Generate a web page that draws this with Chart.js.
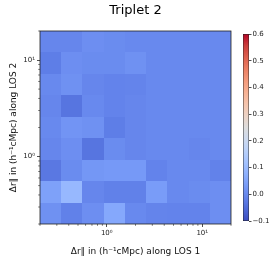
<!DOCTYPE html>
<html>
<head>
<meta charset="utf-8">
<script src="https://cdn.jsdelivr.net/npm/chart.js@4.4.0/dist/chart.umd.min.js"></script>
<style>
  html, body { margin: 0; padding: 0; background: #fff; }
  #wrap { position: relative; width: 275px; height: 257px; }
  #wrap canvas { position: absolute; left: 0; top: 0; }
</style>
</head>
<body>
<div id="wrap">
  <canvas id="heat" width="275" height="257"></canvas>
  <canvas id="cbar" width="275" height="257"></canvas>
</div>
<script>
// bin edges (h^-1 cMpc), same for both lines of sight
const xEdges = [0.2, 0.3337, 0.5565, 0.9284, 1.5486, 2.5836, 4.3093, 7.1876, 11.99, 20];
const yEdges = [0.2, 0.3337, 0.5565, 0.9284, 1.5486, 2.5836, 4.3093, 7.1876, 11.99, 20];

// correlation per cell, rows from lowest LOS 2 bin upwards
const corr = [
  [ 0.015, -0.015,  0.010,  0.060,  0.000, -0.008, -0.010, -0.010,  0.010],
  [ 0.045,  0.095, -0.005, -0.015, -0.015,  0.035,  0.000,  0.005,  0.010],
  [-0.030,  0.005,  0.025,  0.030,  0.030, -0.010,  0.000,  0.000, -0.012],
  [-0.005,  0.010, -0.035,  0.005, -0.005,  0.000,  0.000, -0.005,  0.000],
  [ 0.000,  0.020,  0.015, -0.020, -0.005,  0.000,  0.000,  0.000,  0.000],
  [-0.005, -0.035,  0.000, -0.010, -0.005,  0.000,  0.000,  0.000,  0.000],
  [ 0.000,  0.015, -0.005, -0.010, -0.008,  0.000,  0.000,  0.000,  0.000],
  [-0.020,  0.010,  0.005,  0.005,  0.015,  0.000,  0.000,  0.000,  0.000],
  [-0.005, -0.005,  0.010,  0.005,  0.000,  0.000,  0.000,  0.000,  0.000]
];

const majorTicks = [1, 10];
const majorLabels = ['10⁰', '10¹'];
const minorTicks = [0.2, 0.3, 0.4, 0.5, 0.6, 0.7, 0.8, 0.9, 2, 3, 4, 5, 6, 7, 8, 9, 20];

const vMin = -0.1, vMax = 0.6;
const cbTicks = [-0.1, 0.0, 0.1, 0.2, 0.3, 0.4, 0.5, 0.6];
const cbLabels = ['−0.1', '0.0', '0.1', '0.2', '0.3', '0.4', '0.5', '0.6'];

// matplotlib coolwarm
const coolwarmStops = [
  [59, 76, 192], [77, 104, 215], [98, 130, 234], [119, 154, 247], [141, 176, 254],
  [163, 194, 255], [184, 208, 249], [204, 217, 238], [221, 221, 221], [236, 211, 197],
  [245, 196, 172], [247, 177, 147], [244, 154, 123], [236, 127, 99], [222, 96, 78],
  [203, 62, 60], [180, 4, 38]
];

function coolwarm(t) {
  t = Math.max(0, Math.min(1, t));
  const p = t * (coolwarmStops.length - 1);
  const i = Math.min(Math.floor(p), coolwarmStops.length - 2);
  const f = p - i;
  const a = coolwarmStops[i], b = coolwarmStops[i + 1];
  const c = a.map((v, k) => Math.round(v + (b[k] - v) * f));
  return 'rgb(' + c.join(',') + ')';
}

const FONT = 'DejaVu Sans';
const INK = '#222';

const heatPlugin = {
  id: 'heatCells',
  beforeDatasetsDraw(chart) {
    const xs = chart.scales.x, ys = chart.scales.y, ctx = chart.ctx;
    ctx.save();
    corr.forEach((row, i) => {
      row.forEach((v, j) => {
        const x0 = Math.round(xs.getPixelForValue(xEdges[j]));
        const x1 = Math.round(xs.getPixelForValue(xEdges[j + 1]));
        const y0 = Math.round(ys.getPixelForValue(yEdges[i + 1]));
        const y1 = Math.round(ys.getPixelForValue(yEdges[i]));
        ctx.fillStyle = coolwarm((v - vMin) / (vMax - vMin));
        ctx.fillRect(x0, y0, x1 - x0, y1 - y0);
      });
    });
    ctx.restore();
  },
  afterDraw(chart) {
    const xs = chart.scales.x, ys = chart.scales.y, ctx = chart.ctx;
    const a = chart.chartArea;
    ctx.save();
    ctx.strokeStyle = INK;
    ctx.lineWidth = 0.6;
    ctx.beginPath();
    minorTicks.forEach(v => {
      const x = xs.getPixelForValue(v);
      ctx.moveTo(x, a.bottom);
      ctx.lineTo(x, a.bottom + 1.8);
      const y = ys.getPixelForValue(v);
      ctx.moveTo(a.left, y);
      ctx.lineTo(a.left - 1.8, y);
    });
    ctx.stroke();
    ctx.lineWidth = 0.8;
    ctx.strokeRect(a.left, a.top, a.right - a.left, a.bottom - a.top);
    ctx.restore();
  }
};

function logAxis(pos, label) {
  return {
    type: 'logarithmic',
    position: pos,
    min: 0.2,
    max: 20,
    bounds: 'data',
    afterBuildTicks: s => { s.ticks = majorTicks.map(v => ({ value: v })); },
    ticks: {
      callback: (v, i) => majorLabels[i],
      font: { family: FONT, size: 7 },
      color: INK,
      padding: 2,
      maxRotation: 0,
      autoSkip: false
    },
    grid: { drawOnChartArea: false, tickLength: 3, tickWidth: 0.8, tickColor: INK },
    border: { display: false },
    title: {
      display: true,
      text: label,
      font: { family: FONT, size: 9 },
      color: '#111',
      padding: { top: pos === 'bottom' ? 5.6 : 8.6, bottom: 0 }
    },
    afterFit: s => {
      if (pos === 'bottom') s.height = 33; else s.width = 40;
    }
  };
}

new Chart(document.getElementById('heat'), {
  type: 'scatter',
  data: { datasets: [{ data: [] }] },
  options: {
    responsive: false,
    animation: false,
    layout: { padding: { left: 0, right: 44, top: 0, bottom: 0 } },
    scales: {
      x: logAxis('bottom', 'Δr∥ in (h⁻¹cMpc) along LOS 1'),
      y: logAxis('left', 'Δr∥ in (h⁻¹cMpc) along LOS 2')
    },
    plugins: {
      legend: { display: false },
      tooltip: { enabled: false },
      title: {
        display: true,
        text: 'Triplet 2',
        fullSize: false,
        font: { family: FONT, size: 13, weight: 'normal' },
        color: '#000',
        padding: { top: 3, bottom: 12.4 }
      }
    }
  },
  plugins: [heatPlugin]
});

new Chart(document.getElementById('cbar'), {
  type: 'bar',
  data: {
    labels: [''],
    datasets: [{
      data: [[vMin, vMax]],
      backgroundColor: c => {
        const ys = c.chart.scales.y;
        const yLo = ys ? ys.getPixelForValue(vMin) : NaN;
        const yHi = ys ? ys.getPixelForValue(vMax) : NaN;
        if (!isFinite(yLo) || !isFinite(yHi)) return coolwarm(0.5);
        const g = c.chart.ctx.createLinearGradient(0, yLo, 0, yHi);
        coolwarmStops.forEach((s, i) => g.addColorStop(i / (coolwarmStops.length - 1), 'rgb(' + s.join(',') + ')'));
        return g;
      },
      borderColor: INK,
      borderWidth: 0.8,
      borderSkipped: false,
      barPercentage: 1,
      categoryPercentage: 1
    }]
  },
  options: {
    responsive: false,
    animation: false,
    layout: { padding: { left: 243, right: 0, top: 34, bottom: 36 } },
    scales: {
      x: { display: false },
      y: {
        position: 'right',
        min: vMin,
        max: vMax,
        afterBuildTicks: s => { s.ticks = cbTicks.map(v => ({ value: v })); },
        ticks: {
          callback: (v, i) => cbLabels[i],
          font: { family: FONT, size: 7 },
          color: INK,
          padding: 1
        },
        grid: { drawOnChartArea: false, tickLength: 2.5, tickWidth: 0.8, tickColor: INK },
        border: { display: false },
        afterFit: s => { s.width = 26; }
      }
    },
    plugins: { legend: { display: false }, tooltip: { enabled: false } }
  }
});
</script>
</body>
</html>
